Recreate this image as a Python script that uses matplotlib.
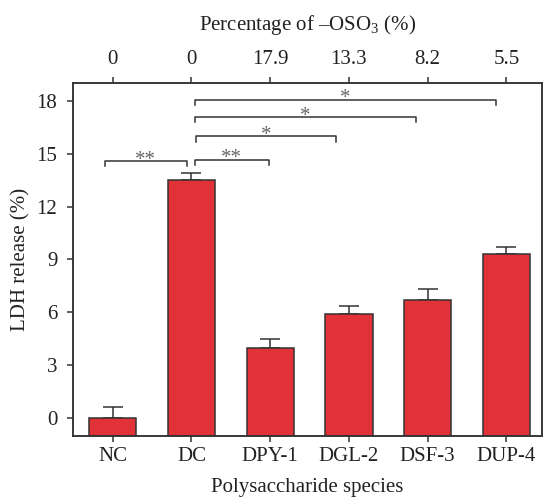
import matplotlib
matplotlib.use("Agg")
from matplotlib import pyplot as plt

plt.rcParams['font.family'] = ['Liberation Serif', 'DejaVu Serif']
plt.rcParams['mathtext.fontset'] = 'custom'
plt.rcParams['mathtext.rm'] = 'Liberation Serif'
plt.rcParams['mathtext.it'] = 'Liberation Serif:italic'

species = ["NC", "DC", "DPY-1", "DGL-2", "DSF-3", "DUP-4"]
ldh = [0.0, 13.53, 3.98, 5.92, 6.72, 9.33]
ldh_err = [0.62, 0.38, 0.53, 0.43, 0.62, 0.38]
oso3 = ["0", "0", "17.9", "13.3", "8.2", "5.5"]

# significance brackets (start, end, height, label)
br_start = [-0.10, 1.04, 1.06, 1.04, 1.04]
br_end = [0.94, 1.99, 2.84, 3.85, 4.87]
br_y = [14.58, 14.66, 15.98, 17.07, 18.05]
br_label = ["**", "**", "*", "*", "*"]

ymin, ymax = -1, 19
fs = 15
dark = "#333333"

fig = plt.figure(figsize=(5.46, 4.98), dpi=100)
ax = fig.add_axes([0.1343, 0.125, 0.858, 0.708])

x = list(range(len(species)))
# bars are drawn up from the bottom of the axis
ax.bar(x, [v - ymin for v in ldh], bottom=ymin, width=0.6, color="#e13237",
       edgecolor=dark, linewidth=1.1, zorder=2)
ax.errorbar(x, ldh, yerr=[[0] * len(ldh), ldh_err], fmt="none", ecolor=dark,
            elinewidth=1.1, capsize=7, capthick=1.1, zorder=1)

drop = 0.3
for i in range(len(br_label)):
    ax.plot([br_start[i], br_start[i], br_end[i], br_end[i]],
            [br_y[i] - drop, br_y[i], br_y[i], br_y[i] - drop],
            color=dark, lw=1.1, clip_on=False)
    ax.text((br_start[i] + br_end[i]) / 2, br_y[i] - 0.2, br_label[i],
            ha="center", va="baseline", fontsize=fs, color="#666666")

ax.set_xlim(-0.5, 5.45)
ax.set_ylim(ymin, ymax)
ax.set_yticks([0, 3, 6, 9, 12, 15, 18])
ax.set_xticks(x)
ax.set_xticklabels(species)
ax.set_ylabel("LDH release (%)", fontsize=fs, color="#222222", labelpad=4)
ax.set_xlabel("Polysaccharide species", fontsize=fs, color="#222222", labelpad=9)
ax.tick_params(labelsize=fs, length=4.5, width=1.1, color=dark, labelcolor="#222222")
ax.tick_params(axis="y", pad=7)

top = ax.twiny()
top.set_xlim(ax.get_xlim())
top.set_xticks(x)
top.set_xticklabels(oso3)
top.tick_params(labelsize=fs, length=4.5, width=1.1, color=dark, labelcolor="#222222", pad=6)
top.set_xlabel("Percentage of \u2013OSO$_3$ (%)", fontsize=fs, color="#222222", labelpad=14)

for a in (ax, top):
    for s in a.spines.values():
        s.set_color(dark)
        s.set_linewidth(1.1)

fig.savefig("out.png", dpi=100)
